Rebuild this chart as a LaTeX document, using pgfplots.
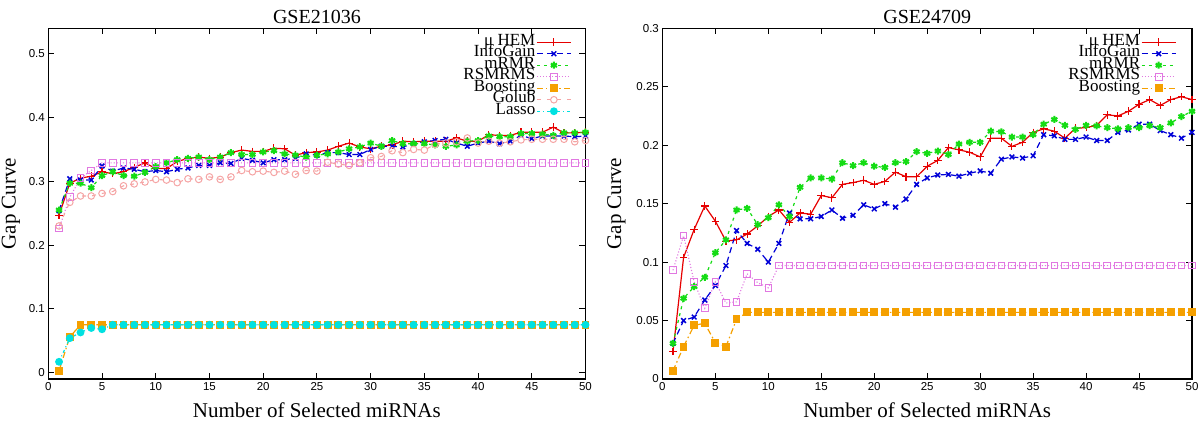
\documentclass[border=0pt]{standalone}
\usepackage{fontspec}
\setmainfont{Liberation Serif}
\setsansfont{Liberation Sans}
\usepackage{pgfplots}
\usepackage{pgfplotstable}
\pgfplotsset{compat=1.18}

\definecolor{hemred}{RGB}{230,0,0}
\definecolor{igblue}{RGB}{0,0,215}
\definecolor{mrgreen}{RGB}{20,220,20}
\definecolor{rsviolet}{RGB}{225,120,225}
\definecolor{boorange}{RGB}{245,160,0}
\definecolor{golpink}{RGB}{245,165,165}
\definecolor{lascyan}{RGB}{0,225,225}

% GSE21036
\pgfplotstableread{
x hem info mrmr rsm boost golub lasso
1 0.247 0.254 0.255 0.226 0.003 0.230 0.017
2 0.297 0.304 0.297 0.275 0.056 0.267 0.054
3 0.305 0.302 0.297 0.305 0.075 0.277 0.063
4 0.308 0.302 0.290 0.317 0.075 0.277 0.070
5 0.315 0.324 0.309 0.329 0.075 0.281 0.068
6 0.312 0.316 0.315 0.329 0.075 0.284 0.075
7 0.315 0.321 0.309 0.329 0.075 0.293 0.075
8 0.322 0.319 0.308 0.329 0.075 0.296 0.075
9 0.329 0.315 0.314 0.329 0.075 0.299 0.075
10 0.320 0.317 0.323 0.329 0.075 0.303 0.075
11 0.320 0.315 0.329 0.329 0.075 0.302 0.075
12 0.331 0.319 0.334 0.329 0.075 0.298 0.075
13 0.336 0.321 0.336 0.329 0.075 0.304 0.075
14 0.338 0.325 0.338 0.329 0.075 0.303 0.075
15 0.336 0.325 0.334 0.329 0.075 0.307 0.075
16 0.338 0.329 0.338 0.329 0.075 0.303 0.075
17 0.345 0.328 0.345 0.329 0.075 0.307 0.075
18 0.349 0.336 0.342 0.329 0.075 0.317 0.075
19 0.347 0.333 0.342 0.329 0.075 0.315 0.075
20 0.347 0.329 0.346 0.329 0.075 0.316 0.075
21 0.352 0.334 0.348 0.329 0.075 0.314 0.075
22 0.351 0.334 0.343 0.329 0.075 0.316 0.075
23 0.341 0.336 0.341 0.329 0.075 0.311 0.075
24 0.345 0.343 0.338 0.329 0.075 0.317 0.075
25 0.346 0.341 0.341 0.329 0.075 0.316 0.075
26 0.349 0.345 0.343 0.329 0.075 0.330 0.075
27 0.355 0.345 0.346 0.329 0.075 0.327 0.075
28 0.360 0.342 0.351 0.329 0.075 0.325 0.075
29 0.354 0.342 0.354 0.329 0.075 0.329 0.075
30 0.351 0.350 0.360 0.329 0.075 0.337 0.075
31 0.355 0.355 0.355 0.329 0.075 0.339 0.075
32 0.357 0.355 0.364 0.329 0.075 0.348 0.075
33 0.363 0.354 0.359 0.329 0.075 0.345 0.075
34 0.362 0.359 0.359 0.329 0.075 0.350 0.075
35 0.363 0.362 0.359 0.329 0.075 0.349 0.075
36 0.363 0.364 0.357 0.329 0.075 0.358 0.075
37 0.363 0.366 0.355 0.329 0.075 0.360 0.075
38 0.368 0.360 0.357 0.329 0.075 0.362 0.075
39 0.363 0.355 0.363 0.329 0.075 0.368 0.075
40 0.363 0.360 0.364 0.329 0.075 0.360 0.075
41 0.373 0.363 0.371 0.329 0.075 0.363 0.075
42 0.372 0.359 0.370 0.329 0.075 0.360 0.075
43 0.372 0.363 0.370 0.329 0.075 0.362 0.075
44 0.377 0.372 0.375 0.329 0.075 0.365 0.075
45 0.377 0.367 0.375 0.329 0.075 0.366 0.075
46 0.377 0.371 0.374 0.329 0.075 0.366 0.075
47 0.385 0.371 0.372 0.329 0.075 0.366 0.075
48 0.376 0.371 0.376 0.329 0.075 0.366 0.075
49 0.376 0.370 0.376 0.329 0.075 0.362 0.075
50 0.377 0.371 0.377 0.329 0.075 0.364 0.075
}\tableA

% GSE24709
\pgfplotstableread{
x hem info mrmr rsm boost
1 0.0234 0.0305 0.0305 0.093 0.007
2 0.104 0.050 0.069 0.1226 0.0277
3 0.128 0.053 0.079 0.083 0.046
4 0.148 0.0676 0.087 0.0605 0.0476
5 0.135 0.080 0.108 0.083 0.031
6 0.118 0.097 0.119 0.065 0.0277
7 0.119 0.127 0.1446 0.066 0.051
8 0.124 0.116 0.146 0.090 0.057
9 0.131 0.111 0.132 0.0824 0.057
10 0.139 0.100 0.138 0.078 0.057
11 0.1446 0.116 0.149 0.097 0.057
12 0.134 0.142 0.139 0.097 0.057
13 0.142 0.137 0.164 0.097 0.057
14 0.141 0.137 0.172 0.097 0.057
15 0.157 0.139 0.172 0.097 0.057
16 0.155 0.1446 0.171 0.097 0.057
17 0.1665 0.1375 0.185 0.097 0.057
18 0.168 0.140 0.1825 0.097 0.057
19 0.170 0.149 0.185 0.097 0.057
20 0.1665 0.1455 0.182 0.097 0.057
21 0.169 0.150 0.181 0.097 0.057
22 0.177 0.147 0.185 0.097 0.057
23 0.173 0.154 0.186 0.097 0.057
24 0.173 0.1665 0.1945 0.097 0.057
25 0.182 0.172 0.193 0.097 0.057
26 0.187 0.1745 0.195 0.097 0.057
27 0.198 0.175 0.192 0.097 0.057
28 0.196 0.1735 0.201 0.097 0.057
29 0.194 0.176 0.2025 0.097 0.057
30 0.190 0.178 0.2025 0.097 0.057
31 0.206 0.176 0.212 0.097 0.057
32 0.206 0.188 0.2115 0.097 0.057
33 0.199 0.190 0.207 0.097 0.057
34 0.2025 0.189 0.207 0.097 0.057
35 0.211 0.191 0.209 0.097 0.057
36 0.214 0.209 0.218 0.097 0.057
37 0.212 0.208 0.222 0.097 0.057
38 0.206 0.205 0.217 0.097 0.057
39 0.2145 0.205 0.2135 0.097 0.057
40 0.215 0.207 0.217 0.097 0.057
41 0.217 0.204 0.2165 0.097 0.057
42 0.226 0.204 0.215 0.097 0.057
43 0.225 0.211 0.214 0.097 0.057
44 0.229 0.213 0.215 0.097 0.057
45 0.235 0.218 0.215 0.097 0.057
46 0.239 0.218 0.2167 0.097 0.057
47 0.234 0.2125 0.215 0.097 0.057
48 0.239 0.209 0.219 0.097 0.057
49 0.2415 0.206 0.2245 0.097 0.057
50 0.239 0.211 0.229 0.097 0.057
}\tableB

\pgfplotsset{
  gapaxis/.style={
    scale only axis,
    height=350.7pt,
    xmin=0, xmax=50,
    xtick={0,5,...,50},
    tick align=inside,
    major tick length=6pt,
    every tick/.style={black, line width=0.9pt},
    axis line style={black, line width=1.2pt},
    tick label style={font=\fontsize{11.5}{12}\sffamily},
    /pgf/number format/assume math mode=true,
    yticklabel style={/pgf/number format/fixed, /pgf/number format/precision=2},
    title style={font=\fontsize{20}{22}\selectfont, at={(axis description cs:0.5,0.996)}, anchor=base},
    xlabel style={font=\fontsize{21}{23}\selectfont, at={(axis description cs:0.5,-0.111)}, anchor=base},
    ylabel style={font=\fontsize{21}{23}\selectfont},
    xlabel={Number of Selected miRNAs},
    ylabel={Gap Curve},
    legend plot pos=right,
    legend cell align=right,
    legend image code/.code={\draw[mark repeat=2,mark phase=2,#1] plot coordinates {(0pt,0pt)(17pt,0pt)(34pt,0pt)};},
    legend style={draw=none, fill=none, inner sep=0pt, row sep=0pt, column sep=1pt,
      font=\fontsize{17}{17}\selectfont,
      nodes={inner sep=0pt, text height=9pt, text depth=2.5pt},
      anchor=north east},
  },
  shem/.style={color=hemred, draw=hemred, solid, line width=1.2pt, mark=+, mark size=3.8pt, mark options={solid, line width=1.1pt, draw=hemred}},
  sinfo/.style={igblue, dash pattern=on 6pt off 4pt, line width=1.2pt, mark=x, mark size=3.3pt, mark options={solid, line width=1.5pt}},
  smrmr/.style={mrgreen, dash pattern=on 3pt off 4pt, line width=1.2pt, mark=asterisk, mark size=3.5pt, mark options={solid, line width=2pt}},
  srsm/.style={rsviolet, dotted, line width=1.1pt, mark=square, mark size=3.3pt, mark options={solid, line width=1pt}},
  sboost/.style={boorange, dash pattern=on 6pt off 3pt on 1.5pt off 3pt, line width=1.2pt, mark=square*, mark size=3.3pt, mark options={solid}},
  sgolub/.style={golpink, dash pattern=on 4pt off 6pt, line width=1.1pt, mark=o, mark size=3.3pt, mark options={solid, line width=1pt}},
  slasso/.style={lascyan, dash pattern=on 3pt off 3pt on 1pt off 3pt, line width=1.2pt, mark=*, mark size=3.3pt, mark options={solid}},
}

\begin{document}
\begin{tikzpicture}[x=1pt,y=1pt]
\useasboundingbox (0,0) rectangle (1200,423);

\begin{axis}[gapaxis,
  at={(48.3pt,44pt)}, anchor=south west,
  width=537.2pt,
  ymin=-0.01, ymax=0.54,
  ytick={0,0.1,...,0.5},
  title={GSE21036},
  ylabel style={at={(axis description cs:-0.0694,0.5)}, anchor=center},
  legend style={at={(axis description cs:1,1)}, xshift=-13.8pt, yshift=-8pt},
]
\addplot[hemred, draw=none, mark=none, forget plot] coordinates {(1,0.247)};
\addplot[shem] table[x=x,y=hem] {\tableA};
\addlegendentry{μ HEM}
\addplot[sinfo] table[x=x,y=info] {\tableA};
\addlegendentry{InfoGain}
\addplot[smrmr] table[x=x,y=mrmr] {\tableA};
\addlegendentry{mRMR}
\addplot[srsm] table[x=x,y=rsm] {\tableA};
\addlegendentry{RSMRMS}
\addplot[sboost] table[x=x,y=boost] {\tableA};
\addlegendentry{Boosting}
\addplot[sgolub] table[x=x,y=golub] {\tableA};
\addlegendentry{Golub}
\addplot[slasso] table[x=x,y=lasso] {\tableA};
\addlegendentry{Lasso}
\end{axis}

\begin{axis}[gapaxis,
  at={(662.4pt,44pt)}, anchor=south west,
  width=529.6pt,
  ymin=0, ymax=0.3,
  ytick={0,0.05,...,0.3},
  title={GSE24709},
  ylabel style={at={(axis description cs:-0.087,0.5)}, anchor=center},
  legend style={at={(axis description cs:1,1)}, xshift=-15.5pt, yshift=-8pt},
]
\addplot[shem] table[x=x,y=hem] {\tableB};
\addlegendentry{μ HEM}
\addplot[sinfo] table[x=x,y=info] {\tableB};
\addlegendentry{InfoGain}
\addplot[smrmr] table[x=x,y=mrmr] {\tableB};
\addlegendentry{mRMR}
\addplot[srsm] table[x=x,y=rsm] {\tableB};
\addlegendentry{RSMRMS}
\addplot[sboost] table[x=x,y=boost] {\tableB};
\addlegendentry{Boosting}
\end{axis}
\end{tikzpicture}
\end{document}
